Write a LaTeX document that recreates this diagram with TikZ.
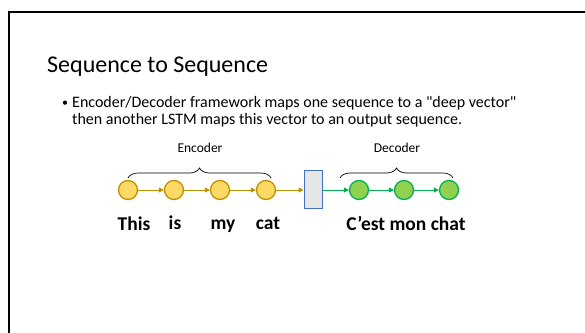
\documentclass[tikz,border=0pt]{standalone}
\usepackage{fontspec}
\setmainfont{Carlito}[Ligatures=TeXOff]
\usetikzlibrary{arrows.meta,decorations.pathreplacing}
\definecolor{goldfill}{HTML}{FFD966}
\definecolor{goldline}{HTML}{BF9000}
\definecolor{greenfill}{HTML}{92D050}
\definecolor{greenline}{HTML}{00B050}
\definecolor{rectfill}{HTML}{E7E6E6}
\definecolor{rectline}{HTML}{4472C4}
\begin{document}
\begin{tikzpicture}[x=1pt,y=-1pt,
  enc/.style={circle,draw=goldline,fill=goldfill,line width=1.3pt,minimum size=19pt,inner sep=0pt},
  dec/.style={circle,draw=greenline,fill=greenfill,line width=1.3pt,minimum size=19pt,inner sep=0pt},
  garrow/.style={draw=goldline,line width=1pt,-{Triangle[length=5pt,width=5pt]}},
  darrow/.style={draw=greenline,line width=1pt,-{Triangle[length=5pt,width=5pt]}},
  word/.style={font=\fontsize{19.5}{22}\selectfont\bfseries,anchor=base},
  lab/.style={font=\fontsize{13.5}{16}\selectfont,anchor=base},
  bodytext/.style={anchor=base west,inner sep=0pt,font=\fontsize{16}{19}\selectfont},
  bracestyle/.style={draw=black,line width=0.7pt,decorate,decoration={brace,amplitude=10pt}}]
\useasboundingbox (0,0) rectangle (585,332);
\clip (0,0) rectangle (585,332);
\draw[line width=2pt] (9,12) rectangle (620,360);
\node[anchor=base west,inner sep=0pt,font=\fontsize{24}{28}\selectfont] (title) at (47,72) {Sequence to Sequence};
\node[anchor=base west,inner sep=0pt,font=\fontsize{12}{14}\selectfont] (bul) at (62,106) {\textbullet};
\node[bodytext] (b1) at (72,107) {Encoder/Decoder framework maps one sequence to a "deep vector"};
\node[bodytext] (b2) at (72,124) {then another LSTM maps this vector to an output sequence.};
\node[enc] (e1) at (128,190) {};
\node[enc] (e2) at (174,190) {};
\node[enc] (e3) at (220,190) {};
\node[enc] (e4) at (266,190) {};
\node[draw=rectline,fill=rectfill,line width=1pt,minimum width=18pt,minimum height=38pt,inner sep=0pt] (v) at (313,189) {};
\node[dec] (d1) at (359,190) {};
\node[dec] (d2) at (404,190) {};
\node[dec] (d3) at (449,190) {};
\draw[garrow] (e1) -- (e2);
\draw[garrow] (e2) -- (e3);
\draw[garrow] (e3) -- (e4);
\draw[garrow] (e4) -- (v.west|-e4);
\draw[darrow] (v.east|-d1) -- (d1);
\draw[darrow] (d1) -- (d2);
\draw[darrow] (d2) -- (d3);
\coordinate (eb1) at (128,178);
\coordinate (eb2) at (271,178);
\coordinate (db1) at (340,178);
\coordinate (db2) at (453,178);
\draw[bracestyle] (eb1) -- (eb2);
\draw[bracestyle] (db1) -- (db2);
\node[lab] (el) at (200,152) {Encoder};
\node[lab] (dl) at (397,152) {Decoder};
\node[word] (w1) at (134,230) {This};
\node[word] (w2) at (175,229) {is};
\node[word] (w3) at (223,229) {my};
\node[word] (w4) at (268,229) {cat};
\node[word] (w5) at (406,230) {C’est mon chat};
\end{tikzpicture}
\end{document}
